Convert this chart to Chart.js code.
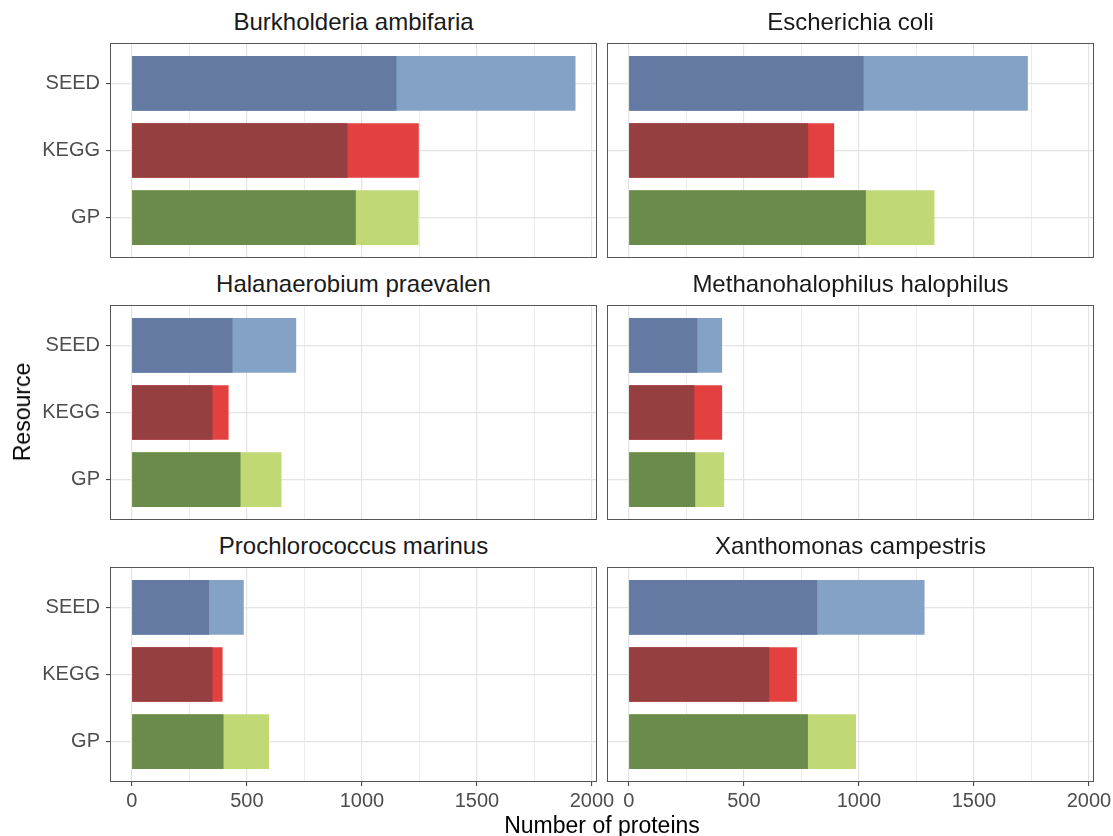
<!DOCTYPE html>
<html>
<head>
<meta charset="utf-8">
<script src="https://cdn.jsdelivr.net/npm/chart.js@4.4.1/dist/chart.umd.min.js"></script>
<style>
  html, body { margin: 0; padding: 0; background: #fff; }
  #page { position: relative; width: 1113px; height: 836px; overflow: hidden;
          font-family: 'Liberation Sans', Arial, Helvetica, sans-serif; }
  #page canvas { position: absolute; }
  .strip { position: absolute; text-align: center; font-size: 24px; line-height: 28px; color: #1a1a1a; white-space: nowrap; }
  .axis-title { position: absolute; font-size: 23px; line-height: 28px; color: #000; white-space: nowrap; }
</style>
</head>
<body>
<div id="page"></div>
<script>
// facets, in reading order
const species = [
  'Burkholderia ambifaria', 'Escherichia coli',
  'Halanaerobium praevalen', 'Methanohalophilus halophilus',
  'Prochlorococcus marinus', 'Xanthomonas campestris'
];
const resources = ['SEED', 'KEGG', 'GP'];

// light bar = all proteins, dark bar = the overlapping part (one value per species)
const seedAll = [1927, 1733, 713, 404, 485, 1284];
const seedShared = [1149, 1019, 436, 296, 334, 817];
const keggAll = [1246, 891, 419, 404, 393, 729];
const keggShared = [936, 778, 349, 283, 349, 609];
const gpAll = [1245, 1327, 649, 413, 595, 986];
const gpShared = [972, 1029, 471, 287, 397, 777];

const xTicks = [0, 250, 500, 750, 1000, 1250, 1500, 1750, 2000];
const xTickLabels = ['0', '', '500', '', '1000', '', '1500', '', '2000'];

const darkColors = ['#647aa2', '#963f40', '#6a8b4b'];
const lightColors = ['#84a1c6', '#e34040', '#c0d975'];

const font = "'Liberation Sans', Arial, Helvetica, sans-serif";
const page = document.getElementById('page');

const rowTops = [43, 305, 567];
const panelHeight = 215;
const panelLefts = [110, 607];
const panelWidth = 487;

const panelBorder = {
  id: 'panelBorder',
  afterDatasetsDraw(chart) {
    const { ctx, chartArea: a } = chart;
    ctx.save();
    ctx.strokeStyle = '#555555';
    ctx.lineWidth = 1;
    ctx.strokeRect(a.left + 0.5, a.top + 0.5, a.right - a.left - 1, a.bottom - a.top - 1);
    ctx.restore();
  }
};

function drawFacet(i) {
  const row = Math.floor(i / 2);
  const col = i % 2;
  const isLeft = col === 0;
  const isBottom = row === 2;

  const shared = [seedShared[i], keggShared[i], gpShared[i]];
  const all = [seedAll[i], keggAll[i], gpAll[i]];

  const canvasLeft = isLeft ? 0 : 560;
  const canvasWidth = isLeft ? 640 : 553;
  const canvasTop = rowTops[row] - 5;
  const canvasHeight = 5 + panelHeight + (isBottom ? 45 : 5);

  const canvas = document.createElement('canvas');
  canvas.width = canvasWidth;
  canvas.height = canvasHeight;
  canvas.style.left = canvasLeft + 'px';
  canvas.style.top = canvasTop + 'px';
  canvas.style.width = canvasWidth + 'px';
  canvas.style.height = canvasHeight + 'px';
  page.appendChild(canvas);

  const strip = document.createElement('div');
  strip.className = 'strip';
  strip.textContent = species[i];
  strip.style.left = panelLefts[col] + 'px';
  strip.style.width = panelWidth + 'px';
  strip.style.top = (rowTops[row] - 35) + 'px';
  page.appendChild(strip);

  new Chart(canvas, {
    type: 'bar',
    data: {
      datasets: [
        {
          data: shared.map((v, k) => ({ x: v, y: k })),
          backgroundColor: darkColors,
          grouped: false,
          barThickness: 54
        },
        {
          data: all.map((v, k) => ({ x: v, y: k })),
          backgroundColor: lightColors,
          grouped: false,
          barThickness: 54
        }
      ]
    },
    options: {
      indexAxis: 'y',
      responsive: false,
      animation: false,
      devicePixelRatio: 1,
      layout: {
        padding: { top: 5, bottom: isBottom ? 0 : 5, left: isLeft ? 0 : 47, right: isLeft ? 43 : 19 }
      },
      plugins: { legend: { display: false }, tooltip: { enabled: false } },
      scales: {
        x: {
          type: 'linear',
          min: -95,
          max: 2022,
          offset: false,
          border: { display: false },
          afterBuildTicks: (scale) => { scale.ticks = xTicks.map((v) => ({ value: v })); },
          afterFit: (scale) => {
            scale.height = isBottom ? 45 : 0;
            scale.paddingLeft = 0;
            scale.paddingRight = 0;
          },
          grid: {
            color: '#e4e4e4',
            lineWidth: (ctx) => (ctx.tick && ctx.tick.value % 500 === 0 ? 1.2 : 0.7),
            drawTicks: isBottom,
            tickLength: 4,
            tickColor: (ctx) => (ctx.tick && ctx.tick.value % 500 === 0 ? '#333333' : 'rgba(0,0,0,0)'),
            tickWidth: 1
          },
          ticks: {
            display: isBottom,
            autoSkip: false,
            maxRotation: 0,
            padding: 3,
            color: '#4d4d4d',
            font: { family: font, size: 20 },
            callback: (value, index) => xTickLabels[index]
          }
        },
        y: {
          type: 'linear',
          min: -0.6,
          max: 2.6,
          reverse: true,
          offset: false,
          border: { display: false },
          afterBuildTicks: (scale) => { scale.ticks = resources.map((r, k) => ({ value: k })); },
          afterFit: (scale) => {
            scale.width = isLeft ? 110 : 0;
            scale.paddingTop = 0;
            scale.paddingBottom = 0;
          },
          grid: {
            offset: false,
            color: '#e4e4e4',
            lineWidth: 1.2,
            drawTicks: isLeft,
            tickLength: 4,
            tickColor: '#333333',
            tickWidth: 1
          },
          ticks: {
            display: isLeft,
            padding: 6,
            color: '#4d4d4d',
            font: { family: font, size: 20 },
            callback: (value) => resources[value]
          }
        }
      }
    },
    plugins: [panelBorder]
  });
}

species.forEach((s, i) => drawFacet(i));

const xTitle = document.createElement('div');
xTitle.className = 'axis-title';
xTitle.textContent = 'Number of proteins';
xTitle.style.left = '0px';
xTitle.style.width = '1204px';
xTitle.style.textAlign = 'center';
xTitle.style.top = '811px';
page.appendChild(xTitle);

const yTitle = document.createElement('div');
yTitle.className = 'axis-title';
yTitle.textContent = 'Resource';
yTitle.style.left = '22px';
yTitle.style.top = '412px';
yTitle.style.transform = 'translate(-50%, -50%) rotate(-90deg)';
page.appendChild(yTitle);
</script>
</body>
</html>
